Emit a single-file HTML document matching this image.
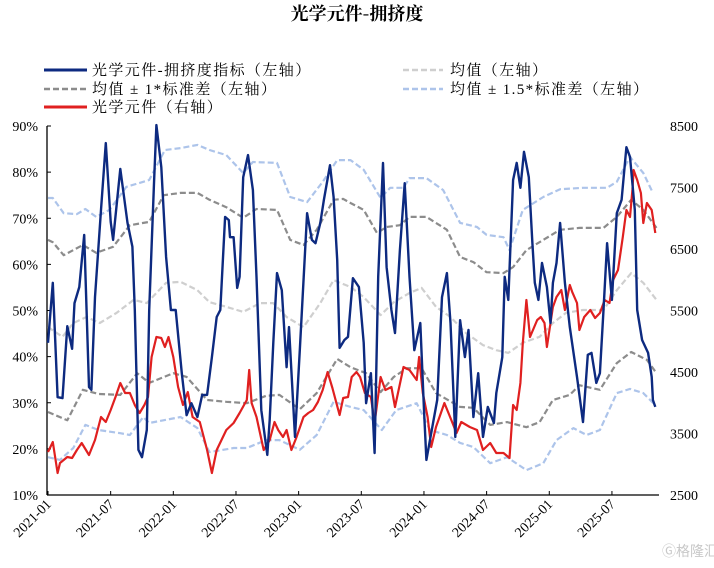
<!DOCTYPE html>
<html><head><meta charset="utf-8">
<style>
html,body{margin:0;padding:0;background:#fff;}
svg{display:block;font-family:"Liberation Serif","Noto Serif CJK SC",serif;}
</style></head>
<body>
<svg id="chart" width="714" height="568" viewBox="0 0 714 568" xmlns="http://www.w3.org/2000/svg">
<text x="357" y="20" text-anchor="middle" font-size="18" font-weight="bold" font-family="'Noto Serif CJK SC','Liberation Serif',serif">光学元件-拥挤度</text>
<g font-size="15" letter-spacing="1.4" font-family="'Liberation Serif','Noto Serif CJK SC',serif">
 <g><line x1="44" y1="70" x2="87" y2="70" stroke="#0d2a80" stroke-width="3"/><text x="92" y="75">光学元件-拥挤度指标（左轴）</text></g>
 <g><line x1="403" y1="70" x2="443" y2="70" stroke="#cfcfcf" stroke-width="2.5" stroke-dasharray="6,3"/><text x="450" y="75">均值（左轴）</text></g>
 <g><line x1="44" y1="89" x2="87" y2="89" stroke="#8c8c8c" stroke-width="2.5" stroke-dasharray="6,3"/><text x="92" y="94">均值 ± 1*标准差（左轴）</text></g>
 <g><line x1="403" y1="89" x2="443" y2="89" stroke="#adc4ea" stroke-width="2.5" stroke-dasharray="6,3"/><text x="450" y="94">均值 ± 1.5*标准差（左轴）</text></g>
 <g><line x1="44" y1="107" x2="87" y2="107" stroke="#e02020" stroke-width="3"/><text x="92" y="112">光学元件（右轴）</text></g>
</g>
<g id="axes"></g>
<g id="series"></g>
<text x="662" y="556" font-size="14" fill="#c8c8c8" font-family="'Noto Sans CJK SC',sans-serif">Ⓖ格隆汇</text>
</svg>
<script>
const leftTicks=[90,80,70,60,50,40,30,20,10];
const rightTicks=[8500,7500,6500,5500,4500,3500,2500];
const xTickLabels=["2021-01","2021-07","2022-01","2022-07","2023-01","2023-07","2024-01","2024-07","2025-01","2025-07"];
const xTickWeeks=[0,26,52,78,104,130,156,182,208,234];

const crowdW=[0,2,4,6,8,10,11,13,15,17,18,19.5,22,24,26,27,30,31,33,35,36,37.5,39,41,42,44,45,47,49,51,53,55.5,57.5,59.5,62,64,66,68,70,71.5,73.5,75,75.5,77,78.5,79.5,81,83,85,86.5,88.5,91,92,93.5,95,97,99,100,102.5,104.5,107.5,109.5,111,113,114.5,117,118.5,120,121,123,124.5,126.5,129,131,132,134,135.5,137,139,140.5,142.5,144,146,148,150,152,154.5,156,157,159,161.5,163.5,165.5,167,169,171,173,174.5,176.5,178.5,180.5,182.5,185,186,188.5,189.5,191,193,194.5,196,197.5,199.5,201,202,203.5,205,207,208.5,209.5,211,212.5,214.5,216.5,219.5,222,224,225.5,227.5,229,230.5,232,234,236,238,240,241.5,243.5,244.5,246.5,249,250.5,251,252];
const crowdV=[43.0,56.0,31.2,31.0,46.6,41.7,51.6,55.1,66.4,33.4,32.8,52.9,71.8,86.3,69.2,65.3,80.7,76.8,69.0,63.8,50.1,19.8,18.2,24.1,50.1,77.6,90.2,81.1,61.6,50.1,50.1,36.4,27.3,29.9,26.9,31.7,31.7,39.9,48.6,50.1,70.3,69.6,65.9,65.9,54.9,57.3,78.9,83.7,76.1,57.3,28.4,18.7,26.3,43.0,58.1,54.4,37.7,46.4,22.6,41.4,71.1,65.3,64.6,69.0,74.0,81.5,74.6,61.0,41.9,43.6,44.3,57.0,55.1,43.0,29.9,36.4,19.1,57.3,82.0,59.4,50.1,45.1,63.1,77.6,57.3,41.4,47.3,28.4,17.6,23.4,30.6,52.9,58.1,47.3,22.6,47.9,39.9,45.8,26.9,36.4,22.6,29.1,25.6,32.1,39.9,57.3,52.3,78.3,82.0,76.6,84.4,78.9,64.6,56.0,52.3,60.3,55.1,47.3,56.0,60.3,69.0,56.0,46.4,35.6,25.8,40.4,40.8,34.3,36.4,50.1,64.6,52.3,71.1,74.0,85.4,83.3,71.8,50.1,43.6,40.8,35.6,30.6,29.1];

const priceW=[0,2,4,5,8,10,12,14,17,19.5,22,24,26,28,30,32,34,36,38,40,41.5,43,45,47,48.5,50,52,54,56,58,60,63,66,68,70,72,74,77,79.5,82.5,83.5,84.5,86.5,89.5,92,94,95.5,97.5,99,101,103,106,108,110,112,114,116,118,121,122.5,124.5,126,128,129.5,131.5,134,135.5,138,140,142.5,144,147.5,150,153,154,155.5,157.5,159,161,164.5,167,169.5,171.5,175,178,180.5,183.5,186,189,191.5,193,194.5,196,197,198.5,200,203,204.5,206,207,208.5,209.5,211,213,214.5,216.5,217.5,219.5,220.5,222.5,225,227,229,231,233,234.5,236.5,238.5,240,241.5,242.5,243,244.5,246,247,248.5,250.5,252];
const priceV=[3199,3362,2858,3020,3118,3102,3232,3346,3150,3394,3768,3687,3882,4094,4321,4159,4159,3963,3833,3963,4094,4744,5069,5053,4907,5069,4744,4256,3963,4175,3768,3687,3232,2858,3232,3394,3557,3671,3833,4045,4533,3996,3768,3232,3394,3687,3557,3443,3557,3232,3427,3768,3833,3882,4012,4207,4500,4240,3801,4077,4094,4419,4500,4419,4159,4094,3671,4419,4207,4256,3931,4581,4533,4370,4744,4159,3768,3281,3606,3996,3752,3508,3687,3606,3557,3232,3346,3183,3183,3102,3963,3882,4321,4972,5671,5069,5346,5395,5297,4907,5297,5557,5720,5833,5508,5915,5802,5622,5183,5394,5508,5378,5459,5671,5622,5996,6159,6695,7134,7020,7459,7785,7622,7411,6923,7248,7134,6760];

const meanW=[0,6,10.5,16,21.5,28.5,35.5,41,49,55,62,67,74,81,88,93.5,99,106,113,118.5,125.5,131,138,143.5,150,155,161,167,173.5,180.5,186,191,197,204,209.5,215,222,230.5,236,242,247,252.5];
const meanV=[46.4,44.3,47.3,48.6,47.3,49.5,52.3,51.6,56.0,56.2,54.4,51.8,50.8,49.7,51.6,51.6,48.6,46.4,51.6,56.6,55.1,52.9,49.0,51.8,53.8,54.9,50.8,48.6,45.1,42.5,41.4,40.8,43.0,44.3,47.3,49.5,50.1,50.1,54.4,58.1,56.0,52.3];

const up1W=[0,2,6.5,10.5,14.5,20,27,34,42,48,55,62,67,74,81,86.5,95,100.5,106,111.5,118.5,122.5,125.5,131,136.5,140.5,146,150,157,165.5,171,176.5,182,189,193,198.5,205.5,212.5,220.5,230.5,236,242,247,252.5];
const up1V=[65.3,64.8,62.0,63.1,64.2,62.5,63.8,68.5,69.2,75.0,75.5,75.5,74.0,72.4,70.1,72.0,71.8,65.3,64.2,67.5,74.0,74.2,73.3,71.8,66.8,68.1,68.5,70.3,70.3,67.5,61.6,60.5,58.3,58.1,59.4,63.1,65.3,67.5,67.9,67.9,70.3,74.0,71.8,67.9];

const lo1W=[0,8,14.5,21,30,37,42,52,57.5,66,74,82.5,90.5,96,104.5,111.5,120,125.5,132,138,143.5,149,155,161,171,176.5,183.5,190.5,198.5,204,209.5,216.5,220.5,229,236,242,248.5,252.5];
const lo1V=[28.0,26.2,32.8,31.9,31.7,36.4,34.3,36.4,35.6,30.6,30.2,29.9,31.5,31.7,28.6,32.1,39.5,37.7,36.4,32.3,35.6,37.5,37.5,32.1,29.1,28.9,25.2,25.8,24.7,25.8,30.6,31.7,33.8,32.8,38.6,41.0,39.3,36.4];

const up15W=[0,2,6.5,12,15.5,20,25.5,32.5,42,48.5,55,62,67,74,81,85,95,100.5,107.5,114,120,125.5,131,138,142,147.5,150,157,164,171,178,182,189,191.5,197,205.5,212.5,222,232,236,241.5,247,251];
const up15V=[74.4,74.4,71.1,70.9,72.0,70.3,71.8,76.8,78.3,84.8,85.2,85.9,84.8,83.7,79.8,82.2,82.0,74.6,73.5,77.9,82.6,82.6,80.5,74.4,76.6,76.6,78.7,78.7,76.1,69.0,68.1,66.4,65.9,63.1,71.8,74.6,76.3,76.6,76.6,77.9,83.3,79.8,75.5];

const lo15W=[0,5,10.5,15.5,21,30,34,39.5,42,49,55,62,67,77,82.5,90.5,96,104.5,111.5,118.5,125.5,131,138.5,144.5,153,158.5,165.5,171,176.5,183.5,190.5,198.5,205.5,211,218,223.5,229,236,241.5,247,252];
const lo15V=[18.2,17.6,20.2,25.2,24.1,23.4,23.0,26.9,25.6,26.3,26.9,24.5,19.3,20.2,20.2,21.9,21.9,19.8,23.0,30.2,29.1,28.4,24.1,28.4,29.9,24.1,23.0,21.3,20.4,16.9,18.2,15.4,16.9,21.9,24.5,23.0,24.1,32.1,33.0,32.1,29.5];

const X0=48,PXW=2.41,YT=126,YB=495,XEND=659;
function xs(w){return X0+w*PXW;}
function yl(v){return YT+(90-v)*(YB-YT)/80;}
function yr(v){return YT+(8500-v)*(YB-YT)/6000;}
const NS="http://www.w3.org/2000/svg";
function mk(tag,attrs,parent){const e=document.createElementNS(NS,tag);for(const k in attrs)e.setAttribute(k,attrs[k]);parent.appendChild(e);return e;}
const axes=document.getElementById('axes');
const series=document.getElementById('series');

const yAxis=mk('line',{x1:47,y1:YT,x2:47,y2:YB,stroke:'#000','stroke-width':1.3},axes);


const xAxis=mk('line',{x1:47,y1:YB,x2:XEND,y2:YB,stroke:'#000','stroke-width':1.3},axes);



leftTicks.forEach(v=>{
  const y=yl(v);
  const t=mk('line',{x1:47,y1:y,x2:51,y2:y,stroke:'#000','stroke-width':1},axes);
  
  
  const l=mk('text',{x:38,y:y+5,'text-anchor':'end','font-size':14},axes);
  l.textContent=v+'%';
  
  
});
rightTicks.forEach(v=>{
  const y=yr(v);
  const l=mk('text',{x:670,y:y+5,'font-size':14},axes);
  l.textContent=v;
  
  
});
xTickWeeks.forEach((w,i)=>{
  const x=xs(w);
  const t=mk('line',{x1:x,y1:YB,x2:x,y2:YB-4,stroke:'#000','stroke-width':1},axes);
  
  
  const l=mk('text',{x:x+4,y:YB+10,'text-anchor':'end','font-size':14,transform:`rotate(-45 ${x+4} ${YB+10})`},axes);
  l.textContent=xTickLabels[i];
  
  
});

function path(W,V,yf,color,width,dash,name){
  const d=W.map((w,i)=>(i?'L':'M')+xs(w).toFixed(1)+','+yf(V[i]).toFixed(1)).join('');
  const p=mk('path',{d:d,fill:'none',stroke:color,'stroke-width':width,'stroke-linejoin':'round'},series);
  if(dash)p.setAttribute('stroke-dasharray',dash);
  
  
}
path(meanW,meanV,yl,'#cfcfcf',2.2,'6,3','mean-line');
path(up15W,up15V,yl,'#adc4ea',2.2,'6,3','upper-1.5sd-line');
path(lo15W,lo15V,yl,'#adc4ea',2.2,'6,3','lower-1.5sd-line');
path(up1W,up1V,yl,'#8c8c8c',2.2,'6,3','upper-1sd-line');
path(lo1W,lo1V,yl,'#8c8c8c',2.2,'6,3','lower-1sd-line');
path(priceW,priceV,yr,'#e02020',2.2,null,'price-line');
path(crowdW,crowdV,yl,'#0d2a80',2.4,null,'crowding-line');
</script>
</body></html>
